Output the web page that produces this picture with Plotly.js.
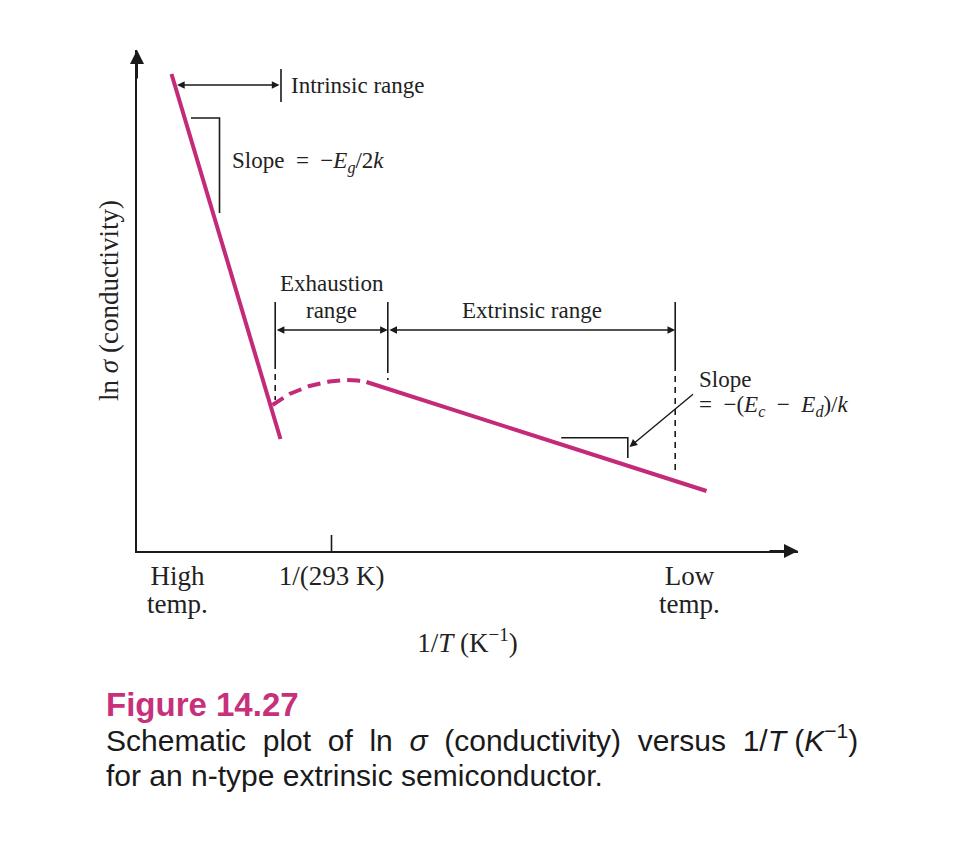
<!DOCTYPE html>
<html>
<head>
<meta charset="utf-8">
<script src="https://cdn.plot.ly/plotly-3.0.1.min.js"></script>
<style>html,body{margin:0;padding:0;background:#fff;}#chart{width:965px;height:847px;}</style>
</head>
<body>
<div id="chart"></div>
<script>
// ---- schematic data (x = 1/T, y = ln sigma, arbitrary units) ----
const intrinsicX = [0.345, 1.435];
const intrinsicY = [4.77, 1.12];
const exhaustionX = [1.355, 1.525, 1.725, 1.925, 2.095, 2.205, 2.295];
const exhaustionY = [1.46, 1.57, 1.65, 1.695, 1.71, 1.705, 1.69];
const extrinsicX = [2.295, 5.695];
const extrinsicY = [1.69, 0.60];

// range boundaries: x position, top of solid part, end of solid part, end of dashed part
const boundaryX = [1.382, 2.508, 5.382];
const boundaryTop = [2.49, 2.49, 2.49];
const boundarySolidEnd = [1.88, 1.84, 1.86];
const boundaryDashEnd = [1.51, 1.71, 0.79];

// range arrows
const rangeArrowY = 2.21;
const intrinsicArrowX = [0.385, 1.425];
const intrinsicArrowY = 4.66;
const intrinsicMarkX = [1.44, 1.44];
const intrinsicMarkY = [4.82, 4.49];

// slope brackets
const slope1X = [0.54, 0.825, 0.825];
const slope1Y = [4.33, 4.33, 3.38];
const slope2X = [4.242, 4.908, 4.908];
const slope2Y = [1.133, 1.133, 0.93];
const slope2ArrowTail = [5.575, 1.58];
const slope2ArrowHead = [4.925, 1.04];

// x-axis tick at 1/(293 K)
const roomTickX = [1.945, 1.945];
const roomTickY = [0, 0.16];

const tickVals = [0.405, 1.945, 5.525];
const tickText = ["High", "1/(293 K)", "Low"];
const tickSecondLine = ["temp.", "", "temp."];

const xMax = 6.61, yMax = 5.01;

const MAG = '#c42a7a';
const INK = '#1a1a1a';
const SERIF = 'Liberation Serif, Times New Roman, serif';
const SANS = 'Liberation Sans, Arial, sans-serif';
const NB = '\u00a0';
const NB2 = NB + NB;

function line(x, y, color, width, dash) {
  return {x: x, y: y, type: 'scatter', mode: 'lines', hoverinfo: 'skip',
          line: {color: color, width: width, dash: dash || 'solid'}};
}

const traces = [
  line(intrinsicX, intrinsicY, MAG, 4),
  line(exhaustionX, exhaustionY, MAG, 4, '13px,7px'),
  line(extrinsicX, extrinsicY, MAG, 4),
  line(slope1X, slope1Y, INK, 1.6),
  line(slope2X, slope2Y, INK, 1.6),
  line(intrinsicMarkX, intrinsicMarkY, INK, 1.6),
  line(roomTickX, roomTickY, INK, 1.6)
];
boundaryX.forEach(function(bx, i) {
  traces.push(line([bx, bx], [boundaryTop[i], boundarySolidEnd[i]], INK, 1.6));
  traces.push(line([bx, bx], [boundarySolidEnd[i], boundaryDashEnd[i]], INK, 1.6, '6px,5px'));
});

function arrow(x, y, ax, ay, both, size, width) {
  return {x: x, y: y, ax: ax, ay: ay, xref: 'x', yref: 'y', axref: 'x', ayref: 'y',
          text: '', showarrow: true, arrowhead: 2, startarrowhead: 2,
          arrowside: both ? 'end+start' : 'end', arrowsize: size, startarrowsize: size,
          arrowwidth: width, arrowcolor: INK, standoff: 0, startstandoff: 0};
}
function label(text, x, y, xanchor, size) {
  return {x: x, y: y, xref: 'x', yref: 'y', text: text, showarrow: false,
          xanchor: xanchor || 'center', yanchor: 'middle',
          font: {family: SERIF, size: size || 23, color: '#222'}};
}

const annotations = [
  // axis arrow heads
  arrow(0, yMax, 0, yMax - 0.3, false, 1.4, 2),
  arrow(xMax, 0, xMax - 0.3, 0, false, 1.4, 2),
  // range arrows
  arrow(intrinsicArrowX[1], intrinsicArrowY, intrinsicArrowX[0], intrinsicArrowY, true, 1.1, 1.4),
  arrow(boundaryX[1], rangeArrowY, boundaryX[0], rangeArrowY, true, 1.1, 1.4),
  arrow(boundaryX[2], rangeArrowY, boundaryX[1], rangeArrowY, true, 1.1, 1.4),
  arrow(slope2ArrowHead[0], slope2ArrowHead[1], slope2ArrowTail[0], slope2ArrowTail[1], false, 1.1, 1.4),
  // labels
  label('Intrinsic range', 1.515, 4.66, 'left'),
  label('Slope' + NB2 + '=' + NB2 + '−<i>E</i><sub><i>g</i></sub>/2<i>k</i>', 0.925, 3.89, 'left'),
  label('Exhaustion', 1.945, 2.68),
  label('range', 1.945, 2.41),
  label('Extrinsic range', 3.945, 2.41),
  label('Slope', 5.595, 1.72, 'left'),
  label('=' + NB2 + '−(<i>E</i><sub><i>c</i></sub>' + NB2 + '−' + NB2 + '<i>E</i><sub><i>d</i></sub>)/<i>k</i>', 5.595, 1.45, 'left'),
  // caption
  {x: -0.0499, y: -0.307, xref: 'paper', yref: 'paper', xanchor: 'left', yanchor: 'middle',
   showarrow: false, text: '<b>Figure 14.27</b>', font: {family: SANS, size: 33, color: '#c7317c'}},
  {x: -0.0499, y: -0.373, xref: 'paper', yref: 'paper', xanchor: 'left', yanchor: 'middle',
   showarrow: false,
   text: 'Schematic' + NB + ' plot' + NB + ' of' + NB + ' ln' + NB + ' <i>σ</i>' + NB + ' (conductivity)' + NB + ' versus' + NB + ' 1/<i>T</i> (<i>K</i><sup>−1</sup>)',
   font: {family: SANS, size: 30, color: '#1a1a1a'}},
  {x: -0.0499, y: -0.449, xref: 'paper', yref: 'paper', xanchor: 'left', yanchor: 'middle',
   showarrow: false, text: 'for an n-type extrinsic semiconductor.',
   font: {family: SANS, size: 30, color: '#1a1a1a'}}
];
// second line of the "High / Low temp." tick labels
tickVals.forEach(function(v, i) {
  if (!tickSecondLine[i]) return;
  annotations.push({x: v / xMax, y: -0.1058, xref: 'paper', yref: 'paper', showarrow: false,
    xanchor: 'center', yanchor: 'middle', text: tickSecondLine[i],
    font: {family: SERIF, size: 27, color: '#222'}});
});

const layout = {
  width: 965, height: 847,
  margin: {l: 137, r: 167, t: 50, b: 296, pad: 0},
  paper_bgcolor: '#ffffff', plot_bgcolor: '#ffffff',
  showlegend: false,
  xaxis: {range: [0, xMax], showgrid: false, zeroline: false, showline: true,
          linecolor: INK, linewidth: 2, ticks: '', tickvals: tickVals, ticktext: tickText,
          ticklabelstandoff: 0,
          tickfont: {family: SERIF, size: 27, color: '#222'},
          title: {text: '1/<i>T</i>' + NB + '(K<sup>−1</sup>)', font: {family: SERIF, size: 27, color: '#222'}, standoff: 43},
          fixedrange: true},
  yaxis: {range: [0, yMax], showgrid: false, zeroline: false, showline: true,
          linecolor: INK, linewidth: 2, ticks: '', showticklabels: false,
          title: {text: 'ln <i>σ</i> (conductivity)', font: {family: SERIF, size: 27, color: '#222'}, standoff: 9},
          fixedrange: true},
  annotations: annotations
};

Plotly.newPlot('chart', traces, layout, {displayModeBar: false, staticPlot: true});
</script>
</body>
</html>
